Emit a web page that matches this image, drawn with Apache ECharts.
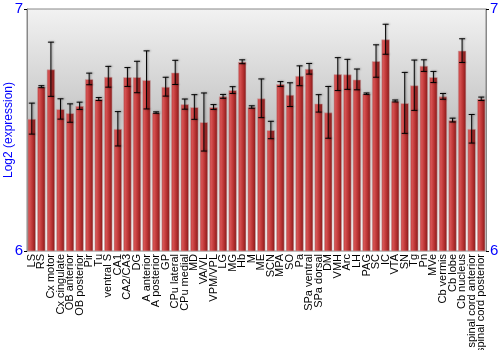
<!DOCTYPE html>
<html>
<head>
<meta charset="utf-8">
<script src="https://cdn.jsdelivr.net/npm/echarts@6/dist/echarts.min.js"></script>
<style>
html,body{margin:0;padding:0;background:#fff;}
#chart{width:500px;height:350px;}
</style>
</head>
<body>
<div id="chart"></div>
<script>
var regions = ['LS','RS','Cx motor','Cx cingulate','OB anterior','OB posterior','Pir','Tu','ventral S','CA1',
	'CA2/CA3','DG','A anterior','A posterior','GP','CPu lateral','CPu medial','MD','VA/VL','VPM/VPL',
	'LG','MG','Hb','M','ME','SCN','MPA','SO','Pa','SPa ventral','SPa dorsal','DM','VMH','Arc','LH',
	'PAG','SC','IC','VTA','SN','Tg','Pn','MVe','Cb vermis','Cb lobe','Cb nucleus',
	'spinal cord anterior','spinal cord posterior'];
var expression = [6.547,6.679,6.751,6.587,6.570,6.600,6.711,6.628,6.720,6.505,
	6.719,6.719,6.707,6.572,6.679,6.738,6.607,6.595,6.533,6.595,
	6.639,6.665,6.782,6.595,6.631,6.500,6.690,6.646,6.724,6.753,6.610,6.573,6.731,6.730,6.709,
	6.650,6.785,6.875,6.620,6.612,6.685,6.766,6.719,6.639,6.541,6.828,
	6.505,6.629];
var stderr = [0.064,0.004,0.112,0.042,0.038,0.015,0.024,0.006,0.043,0.071,
	0.039,0.065,0.120,0.003,0.039,0.050,0.021,0.051,0.120,0.010,
	0.008,0.014,0.008,0.005,0.080,0.036,0.010,0.049,0.041,0.022,0.036,0.107,0.068,0.062,0.043,
	0.003,0.067,0.062,0.004,0.126,0.104,0.024,0.023,0.012,0.008,0.049,
	0.059,0.007];
var yTicks = [6,7];

var errData=[];
for(var i=0;i<regions.length;i++){
	errData.push([i,expression[i]-stderr[i],expression[i]+stderr[i]]);
}

function renderError(params,api){
	var x=api.value(0);
	var lo=api.coord([x,api.value(1)]);
	var hi=api.coord([x,api.value(2)]);
	var w=3;
	var st={stroke:'#000',lineWidth:1,shadowBlur:2,shadowColor:'rgba(0,0,0,0.45)',shadowOffsetX:1};
	return {
		type:'group',
		children:[
			{type:'line',shape:{x1:hi[0],y1:hi[1],x2:lo[0],y2:lo[1]},style:st},
			{type:'line',shape:{x1:hi[0]-w,y1:hi[1],x2:hi[0]+w,y2:hi[1]},style:st},
			{type:'line',shape:{x1:lo[0]-w,y1:lo[1],x2:lo[0]+w,y2:lo[1]},style:st}
		]
	};
}

var mychart = echarts.init(document.getElementById('chart'));
var blueLabel = {color:'#0000ff',fontSize:15,fontFamily:'Liberation Sans',margin:4};
var option = {
	animation:false,
	grid:{
		left:27,right:14,top:9,bottom:99,
		outerBoundsMode:'none',
		containLabel:false,
		show:true,
		borderColor:'#888',
		borderWidth:1,
		backgroundColor:new echarts.graphic.LinearGradient(0,0,0,1,[
			{offset:0,color:'#f2f2f2'},
			{offset:0.45,color:'#c6c6c6'},
			{offset:1,color:'#ffffff'}
		])
	},
	xAxis:{
		type:'category',
		data:regions,
		axisTick:{show:false},
		axisLine:{show:false},
		axisLabel:{rotate:90,interval:0,color:'#000',fontSize:11,fontFamily:'Liberation Sans',margin:3}
	},
	yAxis:[
		{
			type:'value',min:yTicks[0],max:yTicks[1],interval:1,
			name:'Log2 (expression)',nameLocation:'middle',nameGap:12,
			nameMoveOverlap:false,
			nameTextStyle:{color:'#0000ff',fontSize:12,fontFamily:'Liberation Sans'},
			axisLine:{show:true,lineStyle:{color:'#888'}},
			axisTick:{show:true,length:3,lineStyle:{color:'#000'}},
			splitLine:{show:false},
			axisLabel:blueLabel
		},
		{
			type:'value',min:yTicks[0],max:yTicks[1],interval:1,position:'right',
			axisLine:{show:true,lineStyle:{color:'#888'}},
			axisTick:{show:true,length:3,lineStyle:{color:'#000'}},
			splitLine:{show:false},
			axisLabel:blueLabel
		}
	],
	series:[
		{
			type:'bar',
			data:expression,
			barCategoryGap:'10%',
			itemStyle:{
				color:new echarts.graphic.LinearGradient(0,0,1,0,[
					{offset:0,color:'#b53434'},
					{offset:0.25,color:'#d65252'},
					{offset:0.6,color:'#b83232'},
					{offset:1,color:'#7e1616'}
				]),
				borderColor:'rgba(200,170,170,0.6)',
				borderWidth:1
			}
		},
		{
			type:'custom',
			renderItem:renderError,
			data:errData,
			encode:{x:0,y:[1,2]},
			z:10
		}
	]
};
mychart.setOption(option);
</script>
</body>
</html>
